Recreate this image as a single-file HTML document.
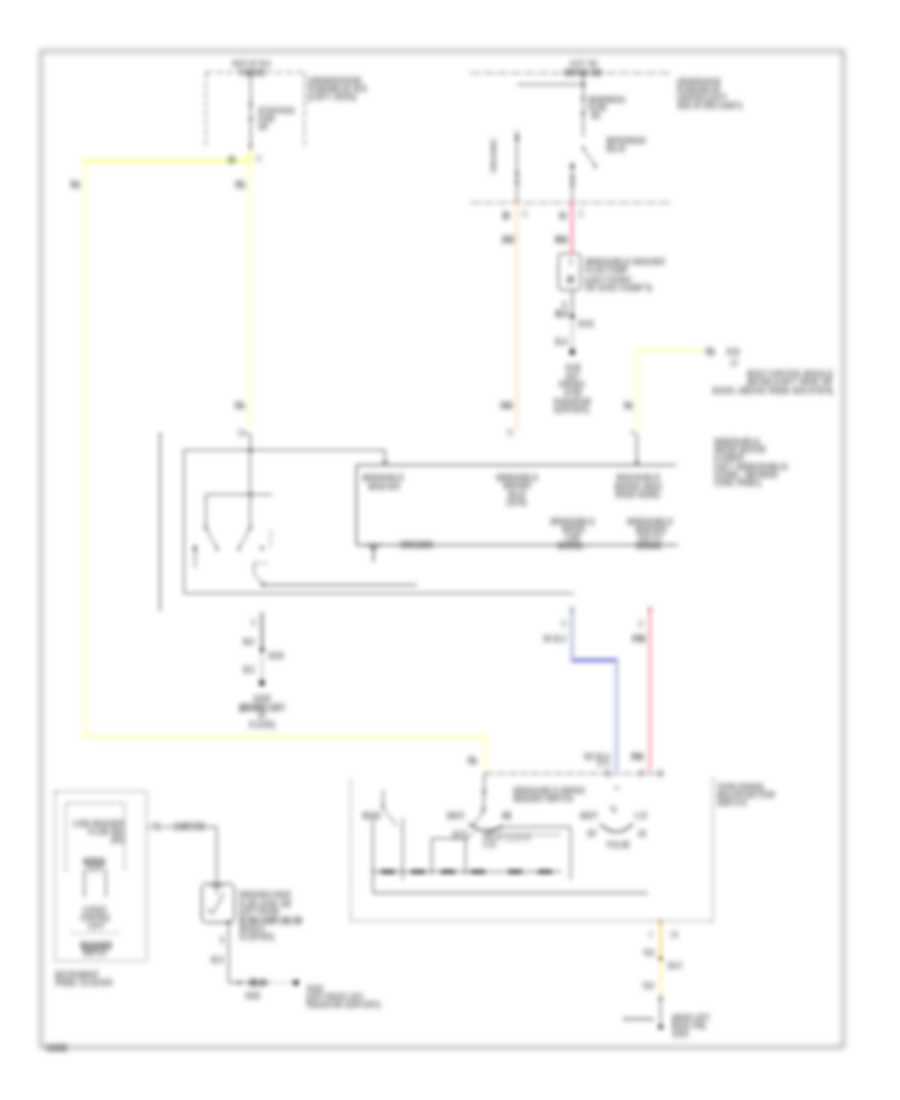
<!DOCTYPE html>
<html><head><meta charset="utf-8"><title>Wiper/Washer Wiring Diagram</title>
<style>
html,body{margin:0;padding:0;background:#fff;}
body{width:900px;height:1100px;overflow:hidden;position:relative;}
svg{position:absolute;left:0;top:0;display:block;}
text{font-family:"Liberation Sans",sans-serif;fill:#000;stroke:#000;stroke-width:0.2px;}
</style></head><body>
<svg width="900" height="1100" viewBox="0 0 900 1100">
<defs>
<filter id="bl" x="0" y="0" width="900" height="1100" filterUnits="userSpaceOnUse"><feGaussianBlur stdDeviation="2.7 2.4"/></filter>
<filter id="by" x="0" y="0" width="900" height="1100" filterUnits="userSpaceOnUse"><feGaussianBlur stdDeviation="3.0 2.7"/></filter>
<filter id="bf" x="0" y="0" width="900" height="1100" filterUnits="userSpaceOnUse"><feGaussianBlur stdDeviation="3.1"/></filter>
<filter id="bt" x="0" y="0" width="900" height="1100" filterUnits="userSpaceOnUse"><feGaussianBlur stdDeviation="2.8 3.0"/></filter>
</defs>
<rect x="41" y="51" width="802.3" height="996.3" fill="none" stroke="#000" stroke-width="1.05" filter="url(#bf)"/>
<g filter="url(#by)">
<line x1="83.5" y1="161.3" x2="251" y2="161.3" stroke="#f2ff00" stroke-width="1.85"/>
<line x1="85.3" y1="160" x2="85.3" y2="738" stroke="#f2ff00" stroke-width="0.88"/>
<line x1="84" y1="736.8" x2="486" y2="736.8" stroke="#f2ff00" stroke-width="1.12"/>
<line x1="485" y1="736" x2="485" y2="771" stroke="#f2ff00" stroke-width="0.9"/>
<line x1="250.5" y1="150" x2="250.5" y2="427" stroke="#f2ff00" stroke-width="0.85"/>
<path d="M248 154 l2.5 7 l2.5 -7 z" fill="#f2ff00" fill-opacity="0.8"/>
<line x1="636" y1="350.8" x2="704" y2="350.8" stroke="#f2ff00" stroke-width="1.12"/>
<line x1="637" y1="350" x2="637" y2="431" stroke="#f2ff00" stroke-width="0.84"/>
</g>
<g filter="url(#bl)">
<line x1="206" y1="72.3" x2="304.5" y2="72.3" stroke="#000" stroke-width="0.75" stroke-dasharray="6.5 3.5"/>
<line x1="206" y1="72" x2="206" y2="146" stroke="#000" stroke-width="0.7" stroke-dasharray="7 2.5"/>
<line x1="304.5" y1="72" x2="304.5" y2="146" stroke="#000" stroke-width="0.7" stroke-dasharray="7 2.5"/>
<line x1="250.7" y1="72" x2="250.7" y2="150" stroke="#000" stroke-width="0.85"/>
<path d="M248.3 105.5 l2.4 -3 l2.4 3 M248.3 118 l2.4 3 l2.4 -3" stroke="#000" stroke-width="0.8" fill="none"/>
<circle cx="250.7" cy="146" r="1.3" fill="#000"/>
<path d="M244 433 l3 0 l3.5 3" stroke="#000" stroke-width="0.8" fill="none"/>
<line x1="470" y1="73" x2="672" y2="73" stroke="#000" stroke-width="0.72" stroke-dasharray="11 2.5"/>
<line x1="517" y1="84.4" x2="584" y2="84.4" stroke="#000" stroke-width="0.85"/>
<circle cx="583.5" cy="84.4" r="1.5" fill="#000"/>
<line x1="583.3" y1="73" x2="583.3" y2="137" stroke="#000" stroke-width="0.85"/>
<path d="M581 100 l2.4 -3 l2.4 3 M581 112 l2.4 3 l2.4 -3" stroke="#000" stroke-width="0.8" fill="none"/>
<line x1="583.3" y1="148" x2="595.5" y2="166.5" stroke="#000" stroke-width="0.85"/>
<circle cx="583.3" cy="148" r="1.2" fill="#000"/>
<circle cx="595.5" cy="166.5" r="1.2" fill="#000"/>
<line x1="517" y1="130" x2="517" y2="203" stroke="#000" stroke-width="0.85"/>
<path d="M514.6 139 l2.4 -4 l2.4 4 z M514.6 172 l2.4 4 l2.4 -4 M514.6 184 l2.4 -4 l2.4 4" stroke="#000" stroke-width="0.8" fill="none"/>
<line x1="572.3" y1="163" x2="572.3" y2="203" stroke="#000" stroke-width="0.85"/>
<path d="M570 167 l2.4 -4 l2.4 4 z M570 176 l2.4 4 l2.4 -4 M570 186 l2.4 -4 l2.4 4" stroke="#000" stroke-width="0.8" fill="none"/>
<line x1="470" y1="202.7" x2="672" y2="202.7" stroke="#000" stroke-width="0.72" stroke-dasharray="11 2.5"/>
<line x1="517" y1="203" x2="517" y2="430" stroke="#ff7d11" stroke-width="0.65"/>
<line x1="572" y1="203" x2="572" y2="253" stroke="#ff0040" stroke-width="1.3"/>
<rect x="558.5" y="253.5" width="22" height="36.5" rx="3" stroke="#000" stroke-width="0.9" fill="none"/>
<line x1="572.3" y1="290" x2="572.3" y2="316" stroke="#000" stroke-width="0.9"/>
<line x1="572.3" y1="316" x2="572.3" y2="350" stroke="#000" stroke-width="0.5"/>
<circle cx="572.3" cy="316.5" r="2.1" fill="#000"/>
<circle cx="572.3" cy="352" r="2.7" fill="#000"/>
<path d="M630 432 l3 0 l4 3 l0 30" stroke="#000" stroke-width="0.9" fill="none"/>
<path d="M635 461.5 l2 3.5 l2 -3.5 z" stroke="#000" stroke-width="0.5" fill="none"/>
<line x1="160" y1="432" x2="160" y2="611" stroke="#000" stroke-width="1.0"/>
<path d="M385 465 L385 450 L184 450 L184 593.3 L574 593.3" stroke="#000" stroke-width="0.85" fill="none"/>
<path d="M383 461.5 l2 3.5 l2 -3.5 z" stroke="#000" stroke-width="0.5" fill="none"/>
<path d="M676.5 465 L356.5 465 L356.5 545 L678 545" stroke="#000" stroke-width="1.0" fill="none"/>
<line x1="263" y1="585" x2="417" y2="585" stroke="#000" stroke-width="1.1"/>
<line x1="250.3" y1="434" x2="250.3" y2="528" stroke="#000" stroke-width="0.85"/>
<circle cx="250.3" cy="450.2" r="1.45" fill="#000"/>
<circle cx="250.3" cy="494.4" r="1.45" fill="#000"/>
<line x1="205.5" y1="494.4" x2="272" y2="494.4" stroke="#000" stroke-width="0.85"/>
<line x1="205.8" y1="494.4" x2="205.8" y2="528" stroke="#000" stroke-width="0.85"/>
<line x1="205.8" y1="528" x2="218" y2="550" stroke="#000" stroke-width="0.85"/>
<line x1="250.3" y1="528" x2="238" y2="550" stroke="#000" stroke-width="0.85"/>
<circle cx="205.8" cy="528" r="1.3" fill="#000"/>
<circle cx="250.3" cy="528" r="1.3" fill="#000"/>
<circle cx="217" cy="548.5" r="1.2" fill="#000"/>
<circle cx="239" cy="548.5" r="1.2" fill="#000"/>
<line x1="195" y1="546" x2="195" y2="568" stroke="#000" stroke-width="0.8"/>
<path d="M193 550 l2 -5 l2 5 z" stroke="#000" stroke-width="0.7" fill="none"/>
<line x1="271" y1="530" x2="270" y2="547" stroke="#000" stroke-width="0.8" stroke-dasharray="3 2"/>
<circle cx="262" cy="548" r="1.5" fill="#000"/>
<line x1="254" y1="563" x2="268" y2="563" stroke="#000" stroke-width="0.8" stroke-dasharray="3 2"/>
<path d="M254 563 l0 11 l9 10" stroke="#000" stroke-width="0.8" fill="none"/>
<circle cx="263" cy="584.5" r="1.5" fill="#000"/>
<path d="M366 545 l16 0 M373.5 545 l0 17 M370 548.5 l7 0" stroke="#000" stroke-width="1.1" fill="none"/>
<line x1="262" y1="650" x2="262" y2="683" stroke="#000" stroke-width="0.5"/>
<line x1="262" y1="612" x2="262" y2="650" stroke="#000" stroke-width="1.3"/>
<circle cx="262" cy="650" r="2.1" fill="#000"/>
<circle cx="262" cy="683" r="2.7" fill="#000"/>
<line x1="572.2" y1="609" x2="572.2" y2="661" stroke="#3c50a0" stroke-width="1.2"/>
<line x1="571.6" y1="660.2" x2="617.5" y2="660.2" stroke="#0808b8" stroke-width="2.0"/>
<line x1="616.6" y1="660" x2="616.6" y2="771" stroke="#4048b0" stroke-width="1.25"/>
<line x1="649.8" y1="609" x2="649.8" y2="771" stroke="#ff0838" stroke-width="1.05"/>
<path d="M569.6 611 l2.4 -4 l2.4 4 M647.6 611 l2.4 -4 l2.4 4" stroke="#000" stroke-width="0.7" fill="none"/>
<line x1="485" y1="773.5" x2="663" y2="773.5" stroke="#000" stroke-width="0.8" stroke-dasharray="9 2.5"/>
<line x1="350.7" y1="780" x2="350.7" y2="921" stroke="#000" stroke-width="0.8" stroke-dasharray="4 3"/>
<line x1="350.7" y1="921" x2="713" y2="921" stroke="#000" stroke-width="0.8" stroke-dasharray="4 3"/>
<line x1="713" y1="778" x2="713" y2="921" stroke="#000" stroke-width="0.8" stroke-dasharray="4 3"/>
<line x1="484.5" y1="773" x2="483.5" y2="812" stroke="#000" stroke-width="0.85"/>
<path d="M481.5 790 l2.5 4 l2.5 -4 M480.5 808 l3 4 l3 -4" stroke="#000" stroke-width="0.7" fill="none"/>
<line x1="383" y1="790" x2="383" y2="808" stroke="#000" stroke-width="0.85"/>
<line x1="383" y1="808" x2="397" y2="826" stroke="#000" stroke-width="0.85"/>
<circle cx="383" cy="806" r="1.2" fill="#000"/>
<line x1="373" y1="818" x2="373" y2="893" stroke="#000" stroke-width="0.85"/>
<line x1="402.7" y1="818" x2="402.7" y2="880" stroke="#000" stroke-width="0.85"/>
<path d="M431.7 874 L431.7 838.5 L467 838.5" stroke="#000" stroke-width="0.85" fill="none"/>
<line x1="465.5" y1="829" x2="465.5" y2="874" stroke="#000" stroke-width="0.85"/>
<path d="M503 827 L570.7 827 L570.7 880" stroke="#000" stroke-width="0.85" fill="none"/>
<line x1="373" y1="893" x2="648" y2="893" stroke="#000" stroke-width="0.95"/>
<line x1="371.7" y1="871.7" x2="561.7" y2="871.7" stroke="#000" stroke-width="0.85"/>
<line x1="381" y1="871.7" x2="395" y2="871.7" stroke="#000" stroke-width="3.0"/>
<line x1="411" y1="871.7" x2="425" y2="871.7" stroke="#000" stroke-width="3.0"/>
<line x1="441" y1="871.7" x2="455" y2="871.7" stroke="#000" stroke-width="3.0"/>
<line x1="471" y1="871.7" x2="485" y2="871.7" stroke="#000" stroke-width="3.0"/>
<line x1="508" y1="871.7" x2="522" y2="871.7" stroke="#000" stroke-width="3.0"/>
<line x1="538" y1="871.7" x2="552" y2="871.7" stroke="#000" stroke-width="3.0"/>
<path d="M469 823 Q 480 836 503 826" stroke="#000" stroke-width="1.25" fill="none"/>
<path d="M483 812 l-10 14" stroke="#000" stroke-width="0.85" fill="none"/>
<line x1="488" y1="834.7" x2="561" y2="834.7" stroke="#000" stroke-width="0.6"/>
<path d="M503 827 l-20 8 M467 838 l8 -6" stroke="#000" stroke-width="0.8" fill="none"/>
<path d="M600 824 Q 617 840 633 823.5" stroke="#000" stroke-width="1.15" fill="none"/>
<path d="M614.5 786 l2.3 4 l2.3 -4" stroke="#000" stroke-width="0.7" fill="none"/>
<path d="M610 806 l3 5" stroke="#000" stroke-width="0.7" fill="none"/>
<line x1="660.7" y1="921" x2="660.7" y2="959" stroke="#e0a800" stroke-width="1.4"/>
<line x1="660.7" y1="959" x2="660.7" y2="993" stroke="#f0e400" stroke-width="1.0"/>
<circle cx="660.7" cy="921.5" r="1.5" fill="#000"/>
<line x1="660.7" y1="993" x2="660.7" y2="1027" stroke="#000" stroke-width="0.8"/>
<circle cx="660.7" cy="959" r="2.1" fill="#000"/>
<circle cx="660.7" cy="1027" r="2.3" fill="#000"/>
<line x1="623" y1="1019" x2="653" y2="1019" stroke="#000" stroke-width="1.6" stroke-dasharray="5 1.5"/>
<path d="M658 997 l2.7 4 l2.7 -4" stroke="#000" stroke-width="0.7" fill="none"/>
<rect x="55" y="791.5" width="91.7" height="169.5" rx="0" stroke="#000" stroke-width="0.8" fill="none" stroke-dasharray="4 3"/>
<path d="M66 871 L66 803 L124.5 803 L124.5 871" stroke="#000" stroke-width="0.8" fill="none" stroke-dasharray="4 3"/>
<line x1="84.4" y1="869" x2="84.4" y2="897" stroke="#000" stroke-width="0.85"/>
<line x1="106" y1="869" x2="106" y2="897" stroke="#000" stroke-width="0.85"/>
<line x1="71" y1="933" x2="121" y2="933" stroke="#000" stroke-width="0.6" stroke-dasharray="4 3"/>
<path d="M147 827 L150 827 M163 827 L172 827 M206 827 L216.7 827 L216.7 884" stroke="#000" stroke-width="0.85" fill="none"/>
<rect x="201.7" y="883.7" width="32.6" height="38.8" rx="4.5" stroke="#000" stroke-width="0.95" fill="none"/>
<path d="M210 886 l13 0 M216.7 884 l0 10 M224 893 l-12 22 M208 908 l3 6" stroke="#000" stroke-width="0.85" fill="none"/>
<path d="M228.7 922 L228.7 982.6 L270 982.6" stroke="#000" stroke-width="0.85" fill="none"/>
<line x1="270" y1="982.6" x2="294" y2="982.6" stroke="#000" stroke-width="0.5" stroke-dasharray="3 2"/>
<circle cx="239" cy="982.6" r="1.5" fill="#000"/>
<circle cx="228.7" cy="922" r="1.6" fill="#000"/>
<circle cx="296" cy="982.6" r="2.7" fill="#000"/>
</g>
<g filter="url(#bt)">
<text x="46" y="1049.7" font-size="6" textLength="21" lengthAdjust="spacingAndGlyphs" font-weight="bold" stroke-width="0.5">109086</text>
<text x="252" y="66.2" font-size="6.6" text-anchor="middle" textLength="40" lengthAdjust="spacingAndGlyphs">HOT AT ALL</text>
<text x="252" y="74.7" font-size="6.6" text-anchor="middle" textLength="27" lengthAdjust="spacingAndGlyphs" font-weight="bold" stroke-width="0" fill-opacity="0.6">TIMES</text>
<text x="258" y="113.4" font-size="6.6" textLength="37" lengthAdjust="spacingAndGlyphs">STOP/HAZ</text>
<text x="258" y="121.4" font-size="6.6" textLength="17" lengthAdjust="spacingAndGlyphs">FUSE</text>
<text x="258" y="128.9" font-size="6.6" textLength="10" lengthAdjust="spacingAndGlyphs">20A</text>
<text x="308" y="83.4" font-size="6.6" textLength="54" lengthAdjust="spacingAndGlyphs">UNDERHOOD</text>
<text x="308" y="91.4" font-size="6.6" textLength="59" lengthAdjust="spacingAndGlyphs">FUSE/RELAY BLK</text>
<text x="308" y="99.4" font-size="6.6" textLength="48" lengthAdjust="spacingAndGlyphs">(LEFT SIDE)</text>
<text x="228" y="161.9" font-size="6.6" textLength="7.5" lengthAdjust="spacingAndGlyphs" font-weight="bold" stroke-width="0">A4</text>
<text x="256" y="161.4" font-size="6.6" textLength="6" lengthAdjust="spacingAndGlyphs" fill-opacity="0.6">C1</text>
<text x="69.5" y="187.4" font-size="6.6" textLength="12" lengthAdjust="spacingAndGlyphs" font-weight="bold" stroke-width="0.3">YEL</text>
<text x="234.5" y="187.4" font-size="6.6" textLength="12" lengthAdjust="spacingAndGlyphs" font-weight="bold" stroke-width="0.3">YEL</text>
<text x="234" y="408.4" font-size="6.6" textLength="12" lengthAdjust="spacingAndGlyphs" font-weight="bold" stroke-width="0.3">YEL</text>
<text x="238" y="435.4" font-size="6.6" textLength="7" lengthAdjust="spacingAndGlyphs" fill-opacity="0.8">C1</text>
<text x="583.5" y="66.4" font-size="6.6" text-anchor="middle" textLength="28" lengthAdjust="spacingAndGlyphs" fill-opacity="0.75">HOT W/</text>
<text x="583" y="75.4" font-size="6.6" text-anchor="middle" textLength="38" lengthAdjust="spacingAndGlyphs" font-weight="bold" stroke-width="0" fill-opacity="0.7">WIPER SW</text>
<text x="588" y="102.4" font-size="6.6" textLength="37" lengthAdjust="spacingAndGlyphs">WSW/WASH</text>
<text x="588" y="110.4" font-size="6.6" textLength="19" lengthAdjust="spacingAndGlyphs">FUSE</text>
<text x="591" y="118.4" font-size="6.6" textLength="9" lengthAdjust="spacingAndGlyphs">25A</text>
<text x="606" y="143.4" font-size="6.6" textLength="40" lengthAdjust="spacingAndGlyphs">WIPER/WASH</text>
<text x="606" y="151.4" font-size="6.6" textLength="20" lengthAdjust="spacingAndGlyphs">RELAY</text>
<text x="494" y="158.4" font-size="6.6" text-anchor="middle" textLength="33" lengthAdjust="spacingAndGlyphs" fill-opacity="0.5" transform="rotate(-90 494 156)">GROUND</text>
<text x="677" y="83.9" font-size="6.6" textLength="44" lengthAdjust="spacingAndGlyphs">UNDERHOOD</text>
<text x="677" y="91.9" font-size="6.6" textLength="44" lengthAdjust="spacingAndGlyphs">FUSE/RELAY</text>
<text x="677" y="99.9" font-size="6.6" textLength="50" lengthAdjust="spacingAndGlyphs">CENTER (LEFT</text>
<text x="677" y="107.9" font-size="6.6" textLength="65" lengthAdjust="spacingAndGlyphs">SIDE OF ENG COMPT)</text>
<text x="502.5" y="218.4" font-size="6.6" textLength="8" lengthAdjust="spacingAndGlyphs" font-weight="bold" stroke-width="0.3">B1</text>
<text x="522" y="216.4" font-size="6.6" textLength="6" lengthAdjust="spacingAndGlyphs" fill-opacity="0.6">C1</text>
<text x="559" y="218.4" font-size="6.6" textLength="8" lengthAdjust="spacingAndGlyphs" font-weight="bold" stroke-width="0.3">A1</text>
<text x="578" y="216.4" font-size="6.6" textLength="6" lengthAdjust="spacingAndGlyphs" fill-opacity="0.6">C1</text>
<text x="501.5" y="241.9" font-size="6.6" textLength="13" lengthAdjust="spacingAndGlyphs" font-weight="bold" stroke-width="0.3">ORG</text>
<text x="555" y="242.4" font-size="6.6" textLength="13" lengthAdjust="spacingAndGlyphs" font-weight="bold" stroke-width="0.3">RED</text>
<text x="500" y="408.4" font-size="6.6" textLength="13" lengthAdjust="spacingAndGlyphs" font-weight="bold" stroke-width="0.3">ORG</text>
<text x="507" y="435.4" font-size="6.6" textLength="7" lengthAdjust="spacingAndGlyphs" fill-opacity="0.7">C1</text>
<text x="569" y="264.4" font-size="6.6" textLength="4" lengthAdjust="spacingAndGlyphs" fill-opacity="0.7">A</text>
<text x="567" y="282.4" font-size="6.6" textLength="7" lengthAdjust="spacingAndGlyphs" font-weight="bold" stroke-width="0">M</text>
<text x="585" y="264.4" font-size="6.6" textLength="80" lengthAdjust="spacingAndGlyphs">WINDSHIELD WASHER</text>
<text x="585" y="272.4" font-size="6.6" textLength="43" lengthAdjust="spacingAndGlyphs">FLUID PUMP</text>
<text x="585" y="281.9" font-size="6.6" textLength="47" lengthAdjust="spacingAndGlyphs">(LEFT FRONT</text>
<text x="585" y="289.9" font-size="6.6" textLength="67" lengthAdjust="spacingAndGlyphs">OF ENG COMPT)</text>
<text x="562" y="307.2" font-size="6.6" textLength="5" lengthAdjust="spacingAndGlyphs" fill-opacity="0.7">B</text>
<text x="555.5" y="316.0" font-size="6.6" textLength="13" lengthAdjust="spacingAndGlyphs" font-weight="bold" stroke-width="0.3">BLK</text>
<text x="577.5" y="326.1" font-size="6.6" textLength="17" lengthAdjust="spacingAndGlyphs">S101</text>
<text x="555" y="344.4" font-size="6.6" textLength="13" lengthAdjust="spacingAndGlyphs">BLK</text>
<text x="573" y="370.4" font-size="6.6" text-anchor="middle" textLength="16" lengthAdjust="spacingAndGlyphs">G102</text>
<text x="572.5" y="378.7" font-size="6.6" text-anchor="middle" textLength="14" lengthAdjust="spacingAndGlyphs">(LEFT</text>
<text x="572" y="387.0" font-size="6.6" text-anchor="middle" textLength="27" lengthAdjust="spacingAndGlyphs">FRONT</text>
<text x="573" y="395.4" font-size="6.6" text-anchor="middle" textLength="18" lengthAdjust="spacingAndGlyphs">OF ENG</text>
<text x="572.5" y="403.7" font-size="6.6" text-anchor="middle" textLength="38" lengthAdjust="spacingAndGlyphs">RADIATOR</text>
<text x="571.5" y="412.0" font-size="6.6" text-anchor="middle" textLength="35.5" lengthAdjust="spacingAndGlyphs">SUPPORT)</text>
<text x="705" y="353.9" font-size="6.6" textLength="11" lengthAdjust="spacingAndGlyphs" font-weight="bold" stroke-width="0.3">YEL</text>
<text x="726" y="353.9" font-size="6.6" textLength="14" lengthAdjust="spacingAndGlyphs">A10</text>
<text x="730" y="364.9" font-size="6.6" textLength="8" lengthAdjust="spacingAndGlyphs" fill-opacity="0.7">C2</text>
<text x="833" y="376.4" font-size="6.6" text-anchor="end" textLength="86" lengthAdjust="spacingAndGlyphs">BODY CONTROL MODULE</text>
<text x="833" y="384.4" font-size="6.6" text-anchor="end" textLength="86" lengthAdjust="spacingAndGlyphs">(BCM) (LEFT SIDE OF</text>
<text x="833" y="393.4" font-size="6.6" text-anchor="end" textLength="121" lengthAdjust="spacingAndGlyphs">DASH, ABOVE KNEE BOLSTER)</text>
<text x="623" y="408.4" font-size="6.6" textLength="11" lengthAdjust="spacingAndGlyphs" font-weight="bold" stroke-width="0.3">YEL</text>
<text x="714" y="443.7" font-size="6.6" textLength="46" lengthAdjust="spacingAndGlyphs">WINDSHIELD</text>
<text x="714" y="452.0" font-size="6.6" textLength="52" lengthAdjust="spacingAndGlyphs">WIPER MOTOR</text>
<text x="714" y="460.3" font-size="6.6" textLength="30" lengthAdjust="spacingAndGlyphs">(LOWER</text>
<text x="714" y="468.6" font-size="6.6" textLength="74" lengthAdjust="spacingAndGlyphs">LEFT WINDSHIELD</text>
<text x="714" y="476.9" font-size="6.6" textLength="64" lengthAdjust="spacingAndGlyphs">COWL, BEHIND</text>
<text x="714" y="485.2" font-size="6.6" textLength="47" lengthAdjust="spacingAndGlyphs">COWL PANEL)</text>
<text x="383" y="480.4" font-size="6.6" text-anchor="middle" textLength="42" lengthAdjust="spacingAndGlyphs">WINDSHIELD</text>
<text x="384" y="488.8" font-size="6.6" text-anchor="middle" textLength="32" lengthAdjust="spacingAndGlyphs">WIPER MTR</text>
<text x="517" y="480.4" font-size="6.6" text-anchor="middle" textLength="42" lengthAdjust="spacingAndGlyphs">WINDSHIELD</text>
<text x="517" y="488.4" font-size="6.6" text-anchor="middle" textLength="28" lengthAdjust="spacingAndGlyphs">WASHER</text>
<text x="517" y="496.9" font-size="6.6" text-anchor="middle" textLength="18" lengthAdjust="spacingAndGlyphs">RELAY</text>
<text x="517" y="505.4" font-size="6.6" text-anchor="middle" textLength="22" lengthAdjust="spacingAndGlyphs">CNTRL</text>
<text x="638" y="480.4" font-size="6.6" text-anchor="middle" textLength="44" lengthAdjust="spacingAndGlyphs">WINDSHIELD</text>
<text x="638" y="488.9" font-size="6.6" text-anchor="middle" textLength="48" lengthAdjust="spacingAndGlyphs">WIPER HIGH</text>
<text x="638" y="497.4" font-size="6.6" text-anchor="middle" textLength="46" lengthAdjust="spacingAndGlyphs">SPEED SIGNAL</text>
<text x="572.5" y="524.4" font-size="6.6" text-anchor="middle" textLength="45" lengthAdjust="spacingAndGlyphs">WINDSHIELD</text>
<text x="573.5" y="531.9" font-size="6.6" text-anchor="middle" textLength="23" lengthAdjust="spacingAndGlyphs">WIPER</text>
<text x="572.5" y="539.9" font-size="6.6" text-anchor="middle" textLength="15" lengthAdjust="spacingAndGlyphs">LOW</text>
<text x="571" y="548.4" font-size="6.6" text-anchor="middle" textLength="27" lengthAdjust="spacingAndGlyphs" font-weight="bold" stroke-width="0" fill-opacity="0.7">SIGNAL</text>
<text x="650" y="524.4" font-size="6.6" text-anchor="middle" textLength="46" lengthAdjust="spacingAndGlyphs">WINDSHIELD</text>
<text x="651" y="531.9" font-size="6.6" text-anchor="middle" textLength="32" lengthAdjust="spacingAndGlyphs">WIPER</text>
<text x="650" y="539.9" font-size="6.6" text-anchor="middle" textLength="25" lengthAdjust="spacingAndGlyphs" fill-opacity="0.8">SWITCH</text>
<text x="649.5" y="548.4" font-size="6.6" text-anchor="middle" textLength="27" lengthAdjust="spacingAndGlyphs" font-weight="bold" stroke-width="0" fill-opacity="0.7">SIGNAL</text>
<text x="400" y="546.9" font-size="6.6" textLength="33" lengthAdjust="spacingAndGlyphs" font-weight="bold" stroke-width="0" fill-opacity="0.7">GROUND</text>
<text x="251" y="625.4" font-size="6.6" textLength="6" lengthAdjust="spacingAndGlyphs" fill-opacity="0.7">C1</text>
<text x="243" y="644.4" font-size="6.6" textLength="12" lengthAdjust="spacingAndGlyphs">BLK</text>
<text x="268" y="658.4" font-size="6.6" textLength="16" lengthAdjust="spacingAndGlyphs">S204</text>
<text x="243" y="672.4" font-size="6.6" textLength="12" lengthAdjust="spacingAndGlyphs">BLK</text>
<text x="262" y="701.4" font-size="6.6" text-anchor="middle" textLength="18" lengthAdjust="spacingAndGlyphs">G200</text>
<text x="262" y="709.9" font-size="6.6" text-anchor="middle" textLength="46" lengthAdjust="spacingAndGlyphs" font-weight="bold" stroke-width="0">(BEHIND LEFT</text>
<text x="262" y="718.4" font-size="6.6" text-anchor="middle" textLength="8" lengthAdjust="spacingAndGlyphs">I/P</text>
<text x="262" y="726.9" font-size="6.6" text-anchor="middle" textLength="26" lengthAdjust="spacingAndGlyphs">FLOOR)</text>
<text x="561" y="626.4" font-size="6.6" textLength="6" lengthAdjust="spacingAndGlyphs" fill-opacity="0.7">C1</text>
<text x="638" y="626.4" font-size="6.6" textLength="6" lengthAdjust="spacingAndGlyphs" fill-opacity="0.7">C1</text>
<text x="543" y="640.9" font-size="6.6" textLength="23" lengthAdjust="spacingAndGlyphs">DK BLU</text>
<text x="632" y="640.9" font-size="6.6" textLength="14" lengthAdjust="spacingAndGlyphs" font-weight="bold" stroke-width="0.3">PNK</text>
<text x="584" y="758.9" font-size="6.6" textLength="26" lengthAdjust="spacingAndGlyphs">DK BLU</text>
<text x="597" y="766.4" font-size="6.6" textLength="13" lengthAdjust="spacingAndGlyphs" fill-opacity="0.7">A C1</text>
<text x="631" y="759.4" font-size="6.6" textLength="13" lengthAdjust="spacingAndGlyphs" font-weight="bold" stroke-width="0">PNK</text>
<text x="467" y="763.4" font-size="6.6" textLength="11" lengthAdjust="spacingAndGlyphs" font-weight="bold" stroke-width="0.3">YEL</text>
<text x="513" y="792.9" font-size="6.6" textLength="72" lengthAdjust="spacingAndGlyphs">WINDSHIELD WIPER</text>
<text x="513" y="801.4" font-size="6.6" textLength="60" lengthAdjust="spacingAndGlyphs">WASHER SWITCH</text>
<text x="717" y="788.9" font-size="6.6" textLength="48" lengthAdjust="spacingAndGlyphs">TURN SIGNAL</text>
<text x="717" y="796.9" font-size="6.6" textLength="58" lengthAdjust="spacingAndGlyphs">MULTIFUNCTION</text>
<text x="717" y="804.9" font-size="6.6" textLength="30" lengthAdjust="spacingAndGlyphs">SWITCH</text>
<text x="362" y="818.4" font-size="6.6" textLength="19" lengthAdjust="spacingAndGlyphs">WASH</text>
<text x="447" y="818.4" font-size="6.6" textLength="18" lengthAdjust="spacingAndGlyphs">MIST</text>
<text x="502" y="818.4" font-size="6.6" textLength="9" lengthAdjust="spacingAndGlyphs" font-weight="bold" stroke-width="0">HI</text>
<text x="452" y="837.4" font-size="6.6" textLength="11" lengthAdjust="spacingAndGlyphs">OFF</text>
<text x="483" y="840.4" font-size="6.6" textLength="47" lengthAdjust="spacingAndGlyphs" fill-opacity="0.6">DELAY 1,2,3,4,5</text>
<text x="483" y="847.4" font-size="6.6" textLength="13" lengthAdjust="spacingAndGlyphs" fill-opacity="0.75">LO</text>
<text x="580" y="818.4" font-size="6.6" textLength="18" lengthAdjust="spacingAndGlyphs">MIST</text>
<text x="635" y="818.4" font-size="6.6" textLength="12" lengthAdjust="spacingAndGlyphs">LO</text>
<text x="587" y="836.4" font-size="6.6" textLength="10" lengthAdjust="spacingAndGlyphs">OFF</text>
<text x="638" y="836.4" font-size="6.6" textLength="8" lengthAdjust="spacingAndGlyphs">HI</text>
<text x="607" y="847.4" font-size="6.6" textLength="23" lengthAdjust="spacingAndGlyphs">PULSE</text>
<text x="612" y="812.4" font-size="6.6" textLength="5" lengthAdjust="spacingAndGlyphs" fill-opacity="0.7">A</text>
<text x="606" y="775.9" font-size="6.6" textLength="5" lengthAdjust="spacingAndGlyphs" fill-opacity="0.7">E</text>
<text x="640" y="775.9" font-size="6.6" textLength="5" lengthAdjust="spacingAndGlyphs" fill-opacity="0.7">F</text>
<text x="657" y="775.9" font-size="6.6" textLength="7" lengthAdjust="spacingAndGlyphs" fill-opacity="0.7">C1</text>
<text x="649" y="937.4" font-size="6.6" textLength="4" lengthAdjust="spacingAndGlyphs" fill-opacity="0.7">C</text>
<text x="670" y="937.4" font-size="6.6" textLength="8" lengthAdjust="spacingAndGlyphs" fill-opacity="0.7">C5</text>
<text x="642.5" y="955.4" font-size="6.6" textLength="12" lengthAdjust="spacingAndGlyphs" fill-opacity="0.85">TAN</text>
<text x="667" y="968.4" font-size="6.6" textLength="16" lengthAdjust="spacingAndGlyphs">S217</text>
<text x="642" y="987.9" font-size="6.6" textLength="12" lengthAdjust="spacingAndGlyphs" fill-opacity="0.85">TAN</text>
<text x="672" y="1019.9" font-size="6.6" textLength="38" lengthAdjust="spacingAndGlyphs">(NEAR LEFT</text>
<text x="672" y="1027.9" font-size="6.6" textLength="35" lengthAdjust="spacingAndGlyphs">KICK PNL</text>
<text x="672" y="1036.4" font-size="6.6" textLength="17" lengthAdjust="spacingAndGlyphs">G201</text>
<text x="124" y="826.4" font-size="6.6" text-anchor="end" textLength="51" lengthAdjust="spacingAndGlyphs">LOW WASHER</text>
<text x="124" y="834.4" font-size="6.6" text-anchor="end" textLength="36" lengthAdjust="spacingAndGlyphs">FLUID IND</text>
<text x="124" y="842.4" font-size="6.6" text-anchor="end" textLength="13" lengthAdjust="spacingAndGlyphs">(RED)</text>
<text x="95" y="864.4" font-size="6.6" text-anchor="middle" textLength="24" lengthAdjust="spacingAndGlyphs" font-weight="bold" stroke-width="0">SERIAL</text>
<text x="95" y="871.4" font-size="6.6" text-anchor="middle" textLength="16" lengthAdjust="spacingAndGlyphs" fill-opacity="0.7">DATA</text>
<text x="95" y="912.4" font-size="6.6" text-anchor="middle" textLength="24" lengthAdjust="spacingAndGlyphs">LOGIC</text>
<text x="95.5" y="920.4" font-size="6.6" text-anchor="middle" textLength="31" lengthAdjust="spacingAndGlyphs">CONTROL</text>
<text x="96.5" y="927.9" font-size="6.6" text-anchor="middle" textLength="17" lengthAdjust="spacingAndGlyphs">CKT</text>
<text x="96" y="947.9" font-size="6.6" text-anchor="middle" textLength="32" lengthAdjust="spacingAndGlyphs" font-weight="bold" stroke-width="0">WASHER</text>
<text x="95.5" y="954.9" font-size="6.6" text-anchor="middle" textLength="25" lengthAdjust="spacingAndGlyphs">INPUT</text>
<text x="55" y="976.9" font-size="6.6" textLength="44" lengthAdjust="spacingAndGlyphs">INSTRUMENT</text>
<text x="55" y="984.9" font-size="6.6" textLength="58" lengthAdjust="spacingAndGlyphs">PANEL CLUSTER</text>
<text x="151" y="829.4" font-size="6.6" textLength="10.5" lengthAdjust="spacingAndGlyphs">TAN</text>
<text x="173" y="829.4" font-size="6.6" textLength="32.5" lengthAdjust="spacingAndGlyphs" font-weight="bold" stroke-width="0">COMPUTER</text>
<text x="239" y="897.4" font-size="6.6" textLength="52" lengthAdjust="spacingAndGlyphs">WINDSHIELD WASH</text>
<text x="239" y="906.1" font-size="6.6" textLength="52" lengthAdjust="spacingAndGlyphs">FLUID LEVEL SW</text>
<text x="239" y="914.4" font-size="6.6" textLength="41" lengthAdjust="spacingAndGlyphs">(LEFT FRONT</text>
<text x="239" y="922.7" font-size="6.6" textLength="63" lengthAdjust="spacingAndGlyphs" font-weight="bold" stroke-width="0.3">OF ENG COMPT, BELOW</text>
<text x="239" y="931.0" font-size="6.6" textLength="26" lengthAdjust="spacingAndGlyphs">HEADLT</text>
<text x="239" y="939.4" font-size="6.6" textLength="35" lengthAdjust="spacingAndGlyphs">CLUSTER)</text>
<text x="219.5" y="942.4" font-size="6.6" textLength="5" lengthAdjust="spacingAndGlyphs" fill-opacity="0.7">B</text>
<text x="211" y="961.7" font-size="6.6" textLength="13" lengthAdjust="spacingAndGlyphs">BLK</text>
<text x="249.5" y="985.0" font-size="6.6" textLength="17" lengthAdjust="spacingAndGlyphs" font-weight="bold" stroke-width="0.3">BLK</text>
<text x="245" y="997.9" font-size="6.6" textLength="15" lengthAdjust="spacingAndGlyphs">S205</text>
<text x="306.5" y="991.4" font-size="6.6" textLength="16.5" lengthAdjust="spacingAndGlyphs">G102</text>
<text x="306.5" y="999.4" font-size="6.6" textLength="57" lengthAdjust="spacingAndGlyphs">(LEFT FRONT LEFT</text>
<text x="306.5" y="1006.9" font-size="6.6" textLength="74" lengthAdjust="spacingAndGlyphs">RADIATOR SUPPORT)</text>
</g>
</svg>
</body></html>
